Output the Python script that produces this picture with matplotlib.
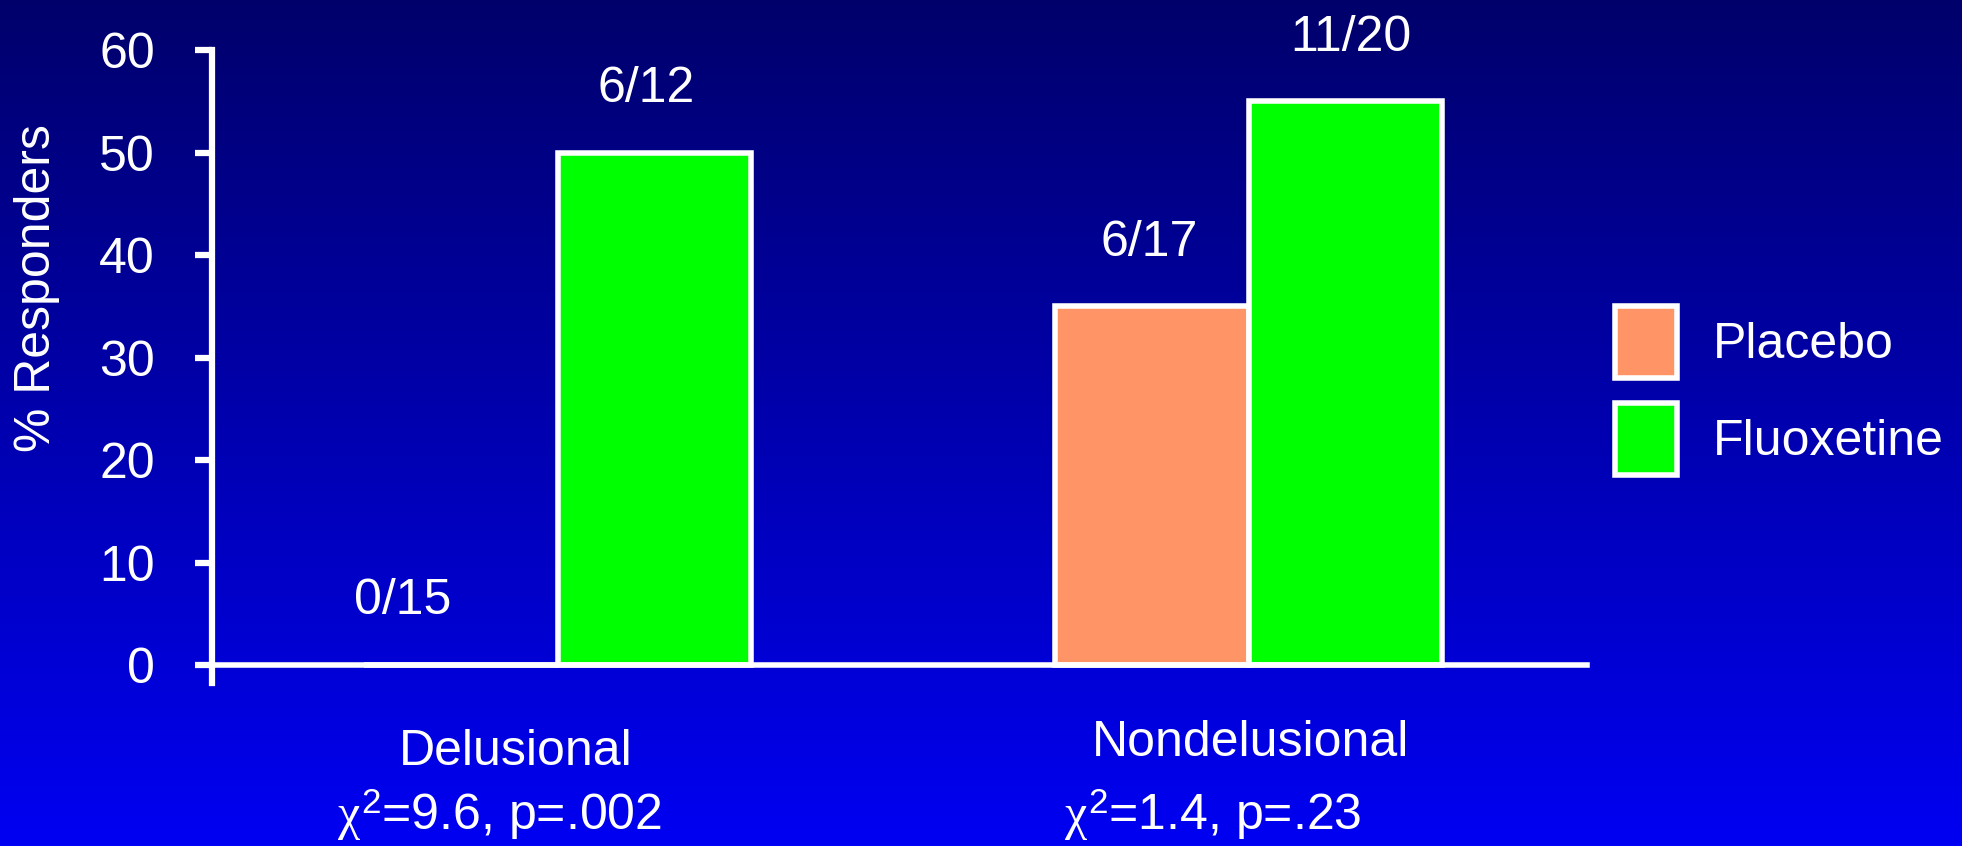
import numpy as np
import matplotlib
matplotlib.use('Agg')
import matplotlib.pyplot as plt

plt.rcParams['font.family'] = ['Liberation Sans', 'DejaVu Sans']
plt.rcParams['mathtext.fontset'] = 'custom'
plt.rcParams['mathtext.rm'] = 'Liberation Sans'
plt.rcParams['mathtext.it'] = 'Liberation Serif'

# Data
groups = ['Delusional', 'Nondelusional']
stats = [r'$\chi^{2}$=9.6, p=.002', r'$\chi^{2}$=1.4, p=.23']
series = ['Placebo', 'Fluoxetine']
placebo = [0, 35]
fluoxetine = [50, 55]
placebo_counts = ['0/15', '6/17']
fluoxetine_counts = ['6/12', '11/20']
yticks = [0, 10, 20, 30, 40, 50, 60]

colors = {'Placebo': '#FF9466', 'Fluoxetine': '#00FF00'}
fs = 36

fig = plt.figure(figsize=(19.62, 8.46), dpi=100)

# blue vertical gradient behind everything
bg = fig.add_axes([0, 0, 1, 1], zorder=-1)
grad = np.linspace(0, 1, 256).reshape(-1, 1)
top = np.array([0.0, 0.0, 0.42])
bottom = np.array([0.0, 0.0, 0.95])
img = top + (bottom - top) * grad[..., None]
bg.imshow(img.reshape(256, 1, 3), aspect='auto', extent=[0, 1, 0, 1])
bg.axis('off')

ax = fig.add_axes([0.1081, 0.1927, 0.7008, 0.7482])
ax.set_facecolor('none')

x = np.arange(len(groups))
w = 0.28
lw = 4
b1 = ax.bar(x - w / 2, placebo, w, color=colors['Placebo'], edgecolor='white',
            linewidth=lw, label='Placebo', zorder=3)
b2 = ax.bar(x + w / 2, fluoxetine, w, color=colors['Fluoxetine'], edgecolor='white',
            linewidth=lw, label='Fluoxetine', zorder=3)

# responder counts above bars (small horizontal nudges in pixels)
offset = 6.2
pl_dx = [-58, -3]
fl_dx = [-8, 6]
for i in range(len(groups)):
    ax.annotate(placebo_counts[i], (x[i] - w / 2, placebo[i] + offset),
                xytext=(pl_dx[i] * 0.72, 0), textcoords='offset points',
                ha='center', va='center', color='white', fontsize=fs,
                annotation_clip=False)
    ax.annotate(fluoxetine_counts[i], (x[i] + w / 2, fluoxetine[i] + offset),
                xytext=(fl_dx[i] * 0.72, 0), textcoords='offset points',
                ha='center', va='center', color='white', fontsize=fs,
                annotation_clip=False)

ax.set_xlim(-0.5, 1.49)
ax.set_ylim(-1.75, 60)
ax.set_yticks(yticks)
ax.set_xticks([])
ax.tick_params(axis='y', colors='white', labelsize=fs, length=12.2, width=4.5,
               pad=29, direction='out')
for s in ['top', 'right']:
    ax.spines[s].set_visible(False)
ax.spines['left'].set_color('white')
ax.spines['left'].set_linewidth(4.5)
ax.spines['bottom'].set_color('white')
ax.spines['bottom'].set_linewidth(4)
ax.spines['bottom'].set_position(('data', 0))
ax.spines['bottom'].set_zorder(4)

fig.text(37 / 1962, 1 - 288 / 846, '% Responders', rotation=90, ha='center',
         va='center', color='white', fontsize=fs)

# group names and chi-square results under the axis
name_pos = [(516, 752), (1251, 743)]
stat_pos = [(499, 830), (1213, 830)]
for i in range(len(groups)):
    fig.text(name_pos[i][0] / 1962, 1 - name_pos[i][1] / 846, groups[i],
             ha='center', va='center', color='white', fontsize=fs)
    fig.text(stat_pos[i][0] / 1962, 1 - stat_pos[i][1] / 846, stats[i],
             ha='center', va='baseline', color='white', fontsize=fs)

leg = ax.legend(handles=[b1, b2], labels=series, loc='upper left',
                bbox_to_anchor=(1615 / 1962, 1 - 306 / 846),
                bbox_transform=fig.transFigure, frameon=False, fontsize=fs,
                handlelength=1.24, handleheight=1.84, labelspacing=0.5,
                handletextpad=0.72, borderpad=0, borderaxespad=0)
for t in leg.get_texts():
    t.set_color('white')

fig.savefig('out.png', dpi=100)
